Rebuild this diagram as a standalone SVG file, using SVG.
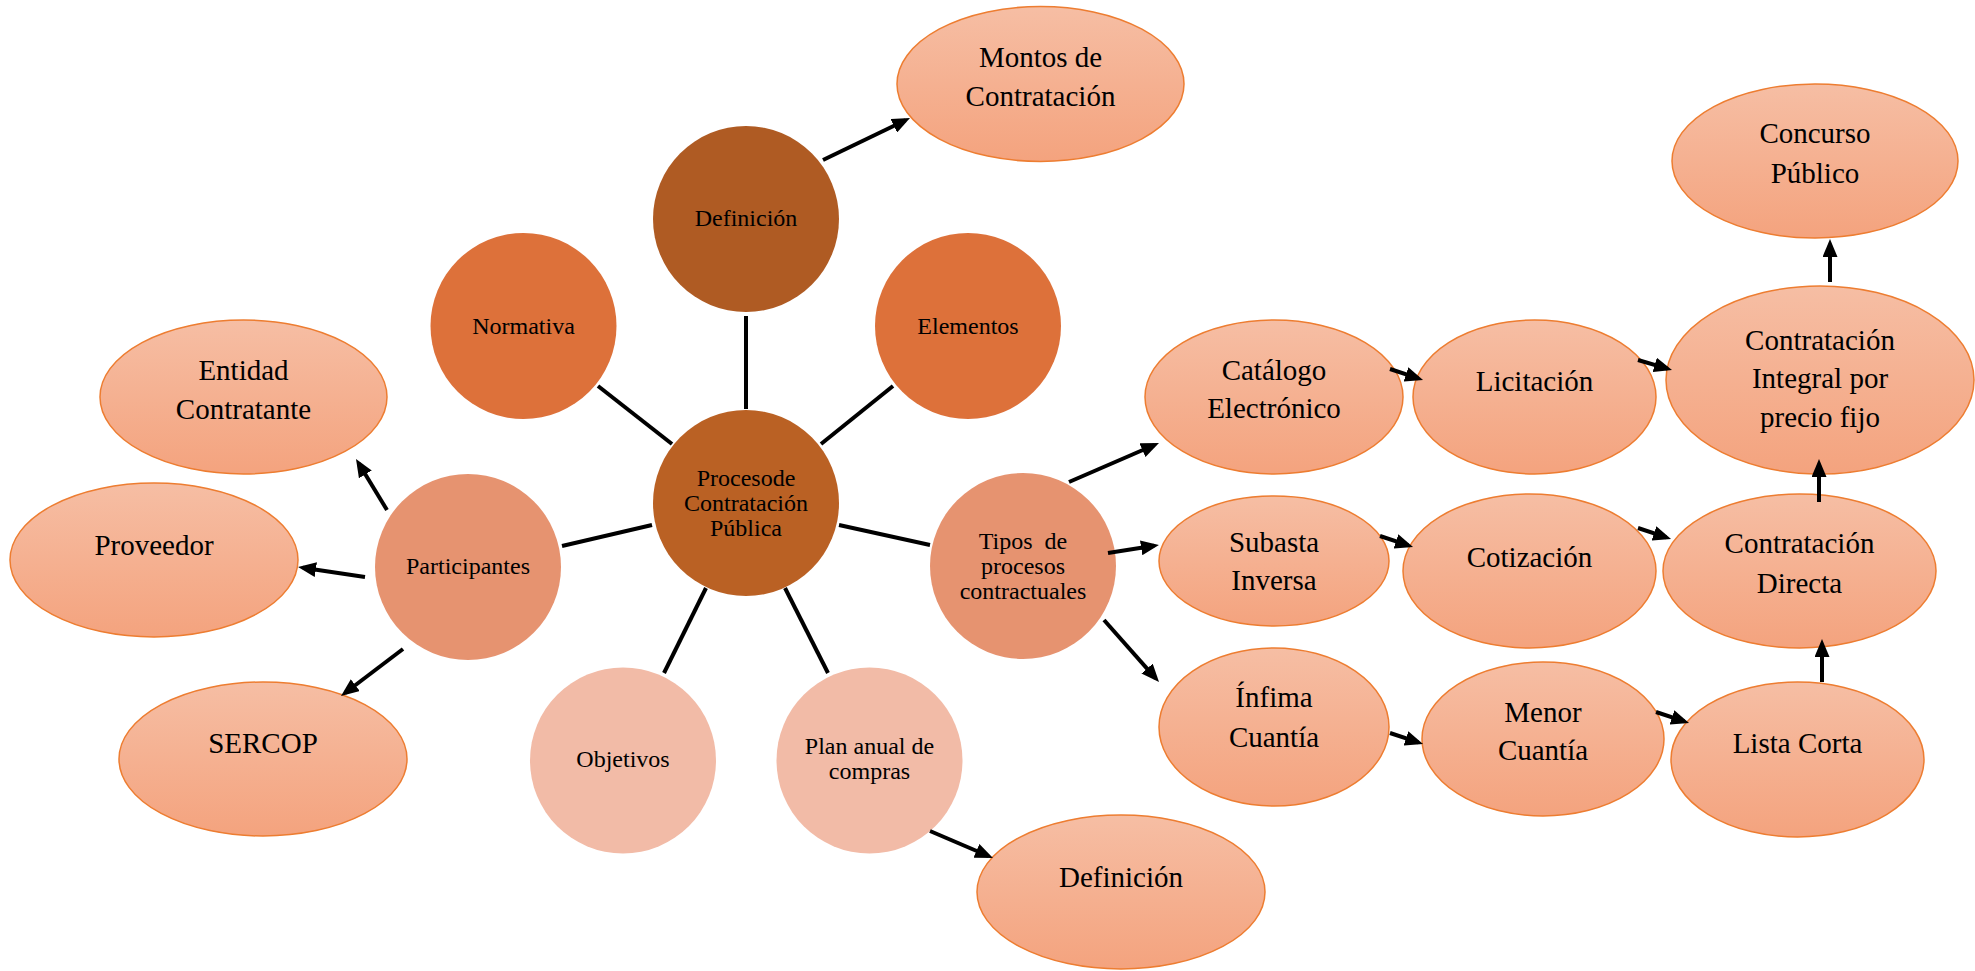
<svg xmlns="http://www.w3.org/2000/svg" width="1975" height="971" viewBox="0 0 1975 971">
<defs>
<linearGradient id="eg" x1="0" y1="0" x2="0" y2="1">
<stop offset="0" stop-color="#F6BEA4"/>
<stop offset="1" stop-color="#F4A37E"/>
</linearGradient>
<marker id="ah" viewBox="0 0 18 15" refX="13" refY="7.5" markerWidth="18" markerHeight="15" markerUnits="userSpaceOnUse" orient="auto">
<path d="M0,0 L18,7.5 L0,15 z" fill="#000"/>
</marker>
<style>
.el{fill:url(#eg);stroke:#ED7D31;stroke-width:1.5}
.t1{font-family:"Liberation Serif","Times New Roman",serif;font-size:29px;fill:#000;text-anchor:middle}
.t2{font-family:"Liberation Serif","Times New Roman",serif;font-size:24px;fill:#000;text-anchor:middle}
.c1{fill:#AF5B23}
.c0{fill:#BA6124}
.c2{fill:#DD713A}
.c3{fill:#E69370}
.c4{fill:#F2BBA7}
.ln{stroke:#000;stroke-width:4;fill:none}
.ar{stroke:#000;stroke-width:4;fill:none;marker-end:url(#ah)}
</style>
</defs>
<rect width="1975" height="971" fill="#fff"/>

<g id="n-montos"><ellipse class="el" cx="1040.5" cy="84" rx="143.5" ry="77.5"/><text class="t1" x="1040.5" y="67">Montos de</text><text class="t1" x="1040.5" y="106">Contratación</text></g>
<g id="n-definicion"><circle class="c1" cx="746" cy="219" r="93"/><text class="t2" x="746" y="226">Definición</text></g>
<g id="n-normativa"><circle class="c2" cx="523.5" cy="326" r="93"/><text class="t2" x="523.5" y="334">Normativa</text></g>
<g id="n-elementos"><circle class="c2" cx="968" cy="326" r="93"/><text class="t2" x="968" y="334">Elementos</text></g>
<g id="n-centro"><circle class="c0" cx="746" cy="503" r="93"/><text class="t2" x="746" y="486">Procesode</text><text class="t2" x="746" y="511">Contratación</text><text class="t2" x="746" y="536">Pública</text></g>
<g id="n-participantes"><circle class="c3" cx="468" cy="567" r="93"/><text class="t2" x="468" y="574">Participantes</text></g>
<g id="n-tipos"><circle class="c3" cx="1023" cy="566" r="93"/><text class="t2" x="1023" y="549">Tipos&#160; de</text><text class="t2" x="1023" y="574">procesos</text><text class="t2" x="1023" y="599">contractuales</text></g>
<g id="n-objetivos"><circle class="c4" cx="623" cy="760.5" r="93"/><text class="t2" x="623" y="767">Objetivos</text></g>
<g id="n-plan"><circle class="c4" cx="869.5" cy="760.5" r="93"/><text class="t2" x="869.5" y="754">Plan anual de</text><text class="t2" x="869.5" y="779">compras</text></g>

<g id="n-entidad"><ellipse class="el" cx="243.5" cy="397" rx="143.5" ry="77"/><text class="t1" x="243.5" y="380">Entidad</text><text class="t1" x="243.5" y="419">Contratante</text></g>
<g id="n-proveedor"><ellipse class="el" cx="154" cy="560" rx="144" ry="77"/><text class="t1" x="154" y="555">Proveedor</text></g>
<g id="n-sercop"><ellipse class="el" cx="263" cy="759" rx="144" ry="77"/><text class="t1" x="263" y="753">SERCOP</text></g>
<g id="n-definicion2"><ellipse class="el" cx="1121" cy="892" rx="144" ry="77"/><text class="t1" x="1121" y="887">Definición</text></g>

<g id="n-catalogo"><ellipse class="el" cx="1274" cy="397" rx="129" ry="77"/><text class="t1" x="1274" y="380">Catálogo</text><text class="t1" x="1274" y="418">Electrónico</text></g>
<g id="n-licitacion"><ellipse class="el" cx="1534.5" cy="397" rx="121.5" ry="77"/><text class="t1" x="1534.5" y="391">Licitación</text></g>
<g id="n-integral"><ellipse class="el" cx="1820" cy="380" rx="154" ry="94"/><text class="t1" x="1820" y="350">Contratación</text><text class="t1" x="1820" y="388">Integral por</text><text class="t1" x="1820" y="427">precio fijo</text></g>
<g id="n-concurso"><ellipse class="el" cx="1815" cy="161" rx="143" ry="77"/><text class="t1" x="1815" y="143">Concurso</text><text class="t1" x="1815" y="183">Público</text></g>
<g id="n-subasta"><ellipse class="el" cx="1274" cy="561" rx="115" ry="65"/><text class="t1" x="1274" y="552">Subasta</text><text class="t1" x="1274" y="590">Inversa</text></g>
<g id="n-cotizacion"><ellipse class="el" cx="1529.5" cy="571" rx="126.5" ry="77"/><text class="t1" x="1529.5" y="567">Cotización</text></g>
<g id="n-directa"><ellipse class="el" cx="1799.5" cy="571" rx="136.5" ry="77"/><text class="t1" x="1799.5" y="553">Contratación</text><text class="t1" x="1799.5" y="593">Directa</text></g>
<g id="n-infima"><ellipse class="el" cx="1274" cy="727" rx="115" ry="79"/><text class="t1" x="1274" y="707">Ínfima</text><text class="t1" x="1274" y="747">Cuantía</text></g>
<g id="n-menor"><ellipse class="el" cx="1543" cy="739" rx="121" ry="77"/><text class="t1" x="1543" y="722">Menor</text><text class="t1" x="1543" y="760">Cuantía</text></g>
<g id="n-lista"><ellipse class="el" cx="1797.5" cy="759.5" rx="126.5" ry="77.5"/><text class="t1" x="1797.5" y="753">Lista Corta</text></g>

<g id="connectors">
<line class="ln" x1="746" y1="409" x2="746" y2="316"/>
<line class="ln" x1="672" y1="444" x2="598" y2="386"/>
<line class="ln" x1="821" y1="444" x2="893" y2="386"/>
<line class="ln" x1="652" y1="525" x2="562" y2="546"/>
<line class="ln" x1="839" y1="525" x2="930" y2="545"/>
<line class="ln" x1="706" y1="588" x2="664" y2="673"/>
<line class="ln" x1="785" y1="588" x2="828" y2="673"/>
<line class="ar" x1="823" y1="160" x2="905.5" y2="120.2"/>
<line class="ar" x1="930" y1="831" x2="988.4" y2="856"/>
<line class="ar" x1="387" y1="510" x2="358.6" y2="463.3"/>
<line class="ar" x1="365" y1="577" x2="303" y2="567.7"/>
<line class="ar" x1="403" y1="649" x2="345" y2="693"/>
<line class="ar" x1="1069" y1="482" x2="1154.4" y2="445"/>
<line class="ar" x1="1108" y1="553" x2="1154" y2="545.8"/>
<line class="ar" x1="1104" y1="620" x2="1155.7" y2="678.3"/>
<line class="ar" x1="1390" y1="369" x2="1418.3" y2="378.4"/>
<line class="ar" x1="1380" y1="536" x2="1408.3" y2="545.4"/>
<line class="ar" x1="1390" y1="733" x2="1418.3" y2="742.4"/>
<line class="ar" x1="1638" y1="360" x2="1667.2" y2="368.6"/>
<line class="ar" x1="1638" y1="528" x2="1666.3" y2="537.4"/>
<line class="ar" x1="1656" y1="712" x2="1684.3" y2="721.4"/>
<line class="ar" x1="1830" y1="282" x2="1830" y2="244"/>
<line class="ar" x1="1819" y1="502" x2="1819" y2="464"/>
<line class="ar" x1="1822" y1="682" x2="1822" y2="644"/>
</g>
</svg>
